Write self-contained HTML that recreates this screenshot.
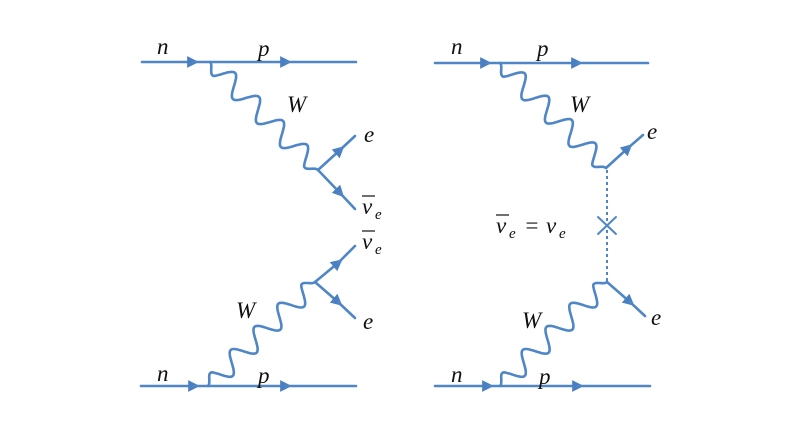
<!DOCTYPE html>
<html><head><style>
html,body{margin:0;padding:0;background:#fff;}
svg{display:block;}
text{font-family:"Liberation Serif","DejaVu Serif",serif;font-style:italic;fill:#111;}
</style></head><body>
<svg id="s" width="800" height="434" viewBox="0 0 800 434" xmlns="http://www.w3.org/2000/svg">
<defs>
<marker id="a" viewBox="0 0 10 10" refX="5" refY="5" markerWidth="4.5" markerHeight="4.5" orient="auto"><path d="M0,0 L10,5 L0,10 z" fill="#4a7fc1"/></marker>
</defs>
<g stroke="#4f86c6" stroke-width="2.6" fill="none" stroke-linecap="round">
<path d="M142,62 L193,62" marker-end="url(#a)"/><path d="M193,62 L286,62" marker-end="url(#a)"/><path d="M286,62 L356,62"/>
<path d="M318,170 L340,150" marker-end="url(#a)"/><path d="M340,150 L355,136"/>
<path d="M318,170 L340,193" marker-end="url(#a)"/><path d="M340,193 L355,209"/>
<path d="M141,386 L194,386" marker-end="url(#a)"/><path d="M194,386 L286,386" marker-end="url(#a)"/><path d="M286,386 L356,386"/>
<path d="M315,282 L338,263" marker-end="url(#a)"/><path d="M338,263 L355,246"/>
<path d="M315,282 L338,302" marker-end="url(#a)"/><path d="M338,302 L355,318"/>
<path d="M435,63 L486,63" marker-end="url(#a)"/><path d="M486,63 L577,63" marker-end="url(#a)"/><path d="M577,63 L648,63"/>
<path d="M606,168 L628,148" marker-end="url(#a)"/><path d="M628,148 L643,135"/>
<path d="M435,386 L488,386" marker-end="url(#a)"/><path d="M488,386 L578,386" marker-end="url(#a)"/><path d="M578,386 L650,386"/>
<path d="M607,282 L630,302" marker-end="url(#a)"/><path d="M630,302 L645,316"/>
<path d="M607,170 L607,282" stroke-width="2" stroke-dasharray="3,3" stroke-linecap="butt"/>
<path d="M598,217 L616,234 M616,217 L598,234" stroke-width="2"/>
<g id="w"></g>
</g>
<text x="157" y="54" font-size="23">n</text>
<text x="258" y="56" font-size="23">p</text>
<text x="287" y="112" font-size="23">W</text>
<text x="364" y="142" font-size="23">e</text>
<text x="362" y="214" font-size="23">ν</text><line x1="362" y1="196" x2="375" y2="196" stroke="#111" stroke-width="1.2"/><text x="375" y="219" font-size="15">e</text>
<text x="362" y="249" font-size="23">ν</text><line x1="362" y1="231" x2="375" y2="231" stroke="#111" stroke-width="1.2"/><text x="375" y="254" font-size="15">e</text>
<text x="363" y="329" font-size="23">e</text>
<text x="236" y="318" font-size="23">W</text>
<text x="157" y="381" font-size="23">n</text>
<text x="258" y="383" font-size="23">p</text>
<text x="451" y="54" font-size="23">n</text>
<text x="537" y="56" font-size="23">p</text>
<text x="570" y="112" font-size="23">W</text>
<text x="647" y="139" font-size="23">e</text>
<text x="496" y="233" font-size="23">ν</text><line x1="496" y1="215" x2="509" y2="215" stroke="#111" stroke-width="1.2"/><text x="509" y="238" font-size="15">e</text>
<text x="524" y="233" font-size="23" font-style="normal">=</text>
<text x="546" y="233" font-size="23">ν</text><text x="559" y="238" font-size="15">e</text>
<text x="522" y="328" font-size="23">W</text>
<text x="651" y="325" font-size="23">e</text>
<text x="451" y="382" font-size="23">n</text>
<text x="539" y="384" font-size="23">p</text>
</svg>
<script>
function wig(x0,y0,x1,y1,n,amp){
 var dx=x1-x0,dy=y1-y0,L=Math.hypot(dx,dy),ux=dx/L,uy=dy/L,px=-uy,py=ux,d="";
 var N=200;
 for(var i=0;i<=N;i++){var t=i/N,s=t*L,o=amp*Math.sin(t*n*2*Math.PI);
  var env=Math.min(1,t*12,(1-t)*12);o*=env;
  var x=x0+ux*s+px*o,y=y0+uy*s+py*o;d+=(i?"L":"M")+x.toFixed(1)+","+y.toFixed(1);}
 var p=document.createElementNS("http://www.w3.org/2000/svg","path");p.setAttribute("d",d);
 document.getElementById("w").appendChild(p);
}
wig(210,62,318,170,4.5,10);
wig(208,386,315,282,4.5,-10);
wig(500,63,606,168,4.5,10);
wig(500,386,607,282,4.5,-10);
</script>
</body></html>
